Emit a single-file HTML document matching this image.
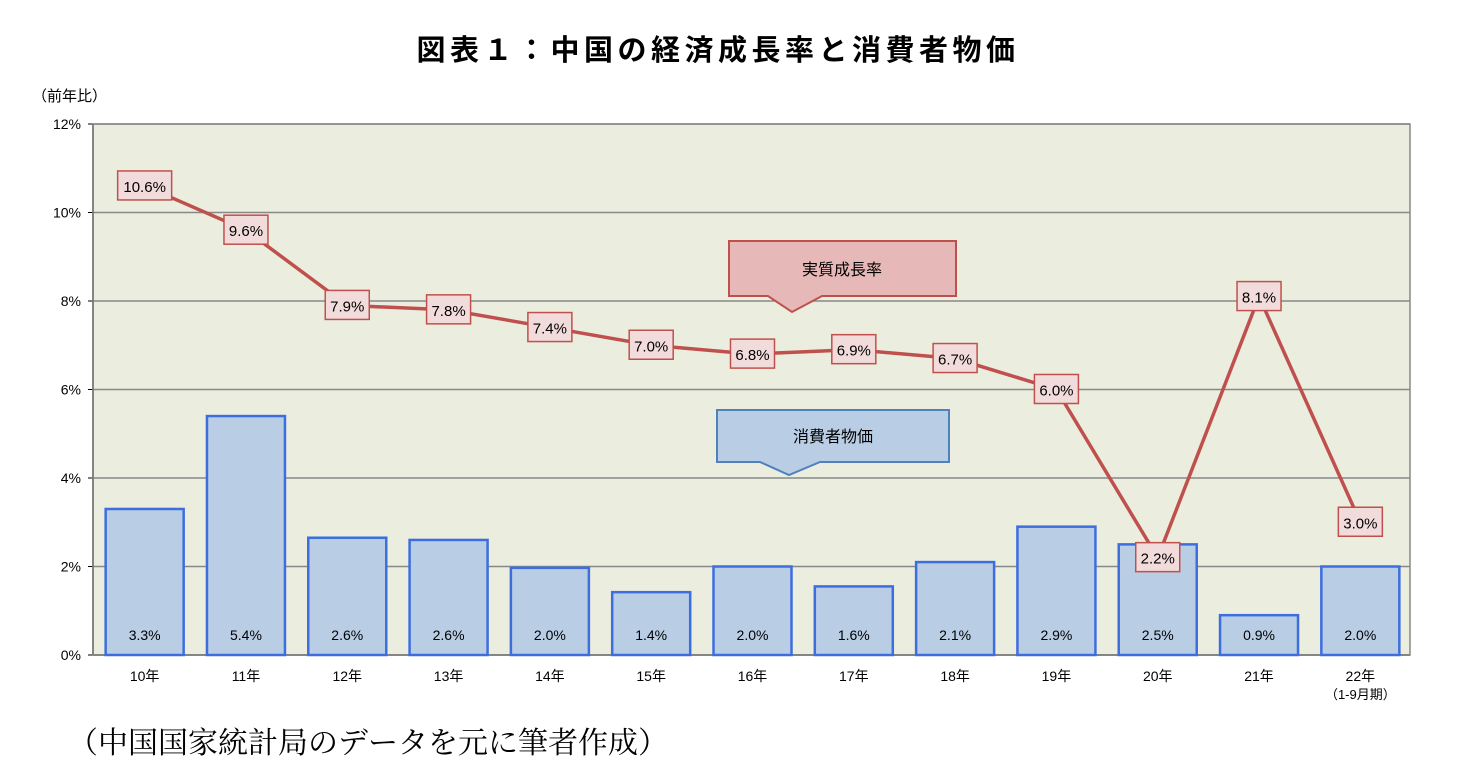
<!DOCTYPE html>
<html><head><meta charset="utf-8">
<style>
body{margin:0;background:#fff;width:1479px;height:779px;overflow:hidden;font-family:"Liberation Sans","Noto Sans CJK JP",sans-serif}
</style></head>
<body>
<svg width="1479" height="779" xmlns="http://www.w3.org/2000/svg" style="font-family:'Liberation Sans','Noto Sans CJK JP',sans-serif">
<text x="718" y="60" text-anchor="middle" font-size="29" letter-spacing="4.5" font-weight="bold">図表１：中国の経済成長率と消費者物価</text>
<text x="32" y="101" font-size="15">（前年比）</text>
<rect x="93" y="124" width="1317" height="531" fill="#ebeedf"/>
<g id="grid"></g>
<g id="bars"></g>
<g id="line"></g>
<g id="labels"></g>
<g>
<path d="M729,241 H956 V296 H822 L792,312 L768,296 H729 Z" fill="#e6b8b7" stroke="#c0504d" stroke-width="2"/>
<text x="842" y="275" text-anchor="middle" font-size="16">実質成長率</text>
</g>
<g>
<path d="M717,410 H949 V462 H820 L789,475 L760,462 H717 Z" fill="#b9cde5" stroke="#4f81bd" stroke-width="2"/>
<text x="833" y="442" text-anchor="middle" font-size="16">消費者物価</text>
</g>
<text x="68" y="753" font-size="30" font-family="'Liberation Serif','Noto Serif CJK SC',serif">（中国国家統計局のデータを元に筆者作成）</text>
</svg>
<script>
const categories=["10年","11年","12年","13年","14年","15年","16年","17年","18年","19年","20年","21年","22年"];
const cpiValues=[3.3,5.4,2.65,2.6,1.97,1.42,2.0,1.55,2.1,2.9,2.5,0.9,2.0];
const cpiLabels=["3.3%","5.4%","2.6%","2.6%","2.0%","1.4%","2.0%","1.6%","2.1%","2.9%","2.5%","0.9%","2.0%"];
const gdpValues=[10.6,9.6,7.9,7.8,7.4,7.0,6.8,6.9,6.7,6.0,2.2,8.1,3.0];
const gdpLabels=["10.6%","9.6%","7.9%","7.8%","7.4%","7.0%","6.8%","6.9%","6.7%","6.0%","2.2%","8.1%","3.0%"];
const yTicks=[0,2,4,6,8,10,12];
const NS="http://www.w3.org/2000/svg";
const X0=93,X1=1410,Y0=655,Y1=124,YMAX=12;
const bw=(X1-X0)/categories.length;
const xc=i=>X0+bw*(i+0.5)+1;
const y=v=>Y0-(v/YMAX)*(Y0-Y1);
function mk(t,a,p){const e=document.createElementNS(NS,t);for(const k in a)e.setAttribute(k,a[k]);p.appendChild(e);return e;}
const grid=document.getElementById('grid');
yTicks.forEach(t=>{
 const l=mk('line',{x1:X0,x2:X1,y1:y(t),y2:y(t),stroke:t==0?'#000':'#888','stroke-width':1.5},grid);
 
 
 const tk=mk('line',{x1:X0-5,x2:X0,y1:y(t),y2:y(t),stroke:'#000'},grid);
 
 
 const tx=mk('text',{x:X0-12,y:y(t)+5,'text-anchor':'end','font-size':14},grid);
 tx.textContent=t+'%';
 
 
});
mk('line',{x1:X0,x2:X0,y1:Y1,y2:Y0,stroke:'#000','stroke-width':1.5},grid);
mk('rect',{x:X0,y:Y1,width:X1-X0,height:Y0-Y1,fill:'none',stroke:'#888','stroke-width':1.5},grid);
const bars=document.getElementById('bars');
categories.forEach((c,i)=>{
 const b=mk('rect',{x:xc(i)-39,y:y(cpiValues[i]),width:78,height:Y0-y(cpiValues[i]),fill:'#b9cde5',stroke:'#3c6ee0','stroke-width':2.5},bars);
 
 
 const t=mk('text',{x:xc(i),y:640,'text-anchor':'middle','font-size':14},bars);
 t.textContent=cpiLabels[i];
 
 
 const xt=mk('text',{x:xc(i),y:681,'text-anchor':'middle','font-size':14},bars);
 xt.textContent=c;
 
 
});
const sub=mk('text',{x:xc(12),y:699,'text-anchor':'middle','font-size':13},bars);
sub.textContent='（1-9月期）';


const line=document.getElementById('line');
const pl=mk('polyline',{points:gdpValues.map((v,i)=>xc(i)+','+y(v)).join(' '),fill:'none',stroke:'#c0504d','stroke-width':3.5},line);


const labels=document.getElementById('labels');
gdpValues.forEach((v,i)=>{
 const w=gdpLabels[i].length>4?54:44;
 const r=mk('rect',{x:xc(i)-w/2,y:y(v)-15,width:w,height:29,fill:'#f2dcdb',stroke:'#c0504d','stroke-width':1.5},labels);
 
 
 const t=mk('text',{x:xc(i),y:y(v)+6,'text-anchor':'middle','font-size':15},labels);
 t.textContent=gdpLabels[i];
 
 
});
</script>
</body></html>
